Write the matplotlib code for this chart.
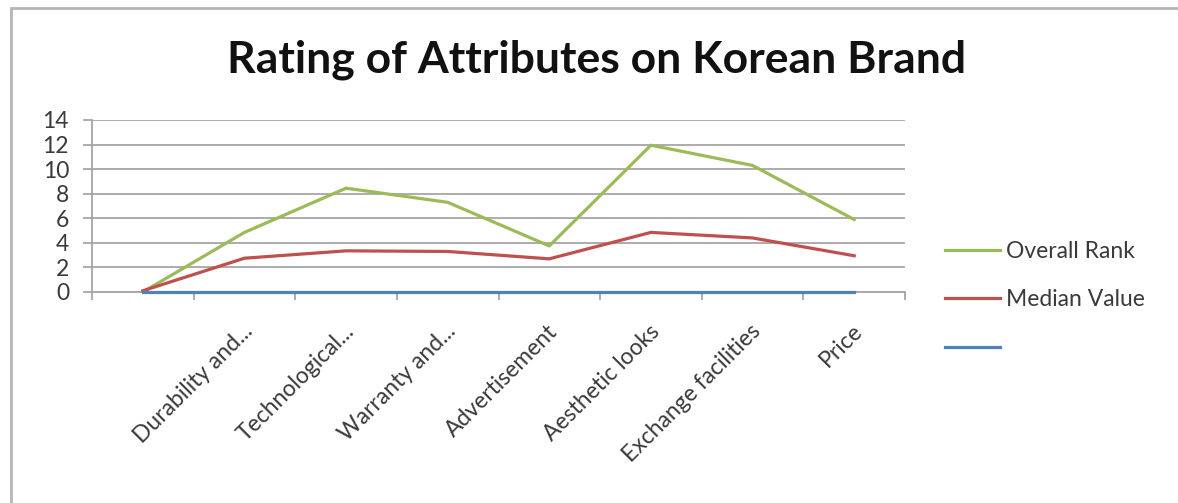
import matplotlib.pyplot as plt
from matplotlib.patches import Rectangle
import matplotlib.transforms as mtransforms

# chart data
categories = ["", "Durability and...", "Technological...", "Warranty and...",
              "Advertisement", "Aesthetic looks", "Exchange facilities", "Price"]
overall_rank = [0, 4.85, 8.45, 7.3, 3.75, 11.95, 10.3, 5.9]
median_value = [0.1, 2.75, 3.35, 3.3, 2.7, 4.85, 4.4, 2.95]
third_series = [0, 0, 0, 0, 0, 0, 0, 0]
y_ticks = [0, 2, 4, 6, 8, 10, 12, 14]

plt.rcParams['font.family'] = ['Lato', 'DejaVu Sans']

fig = plt.figure(figsize=(11.78, 5.03), dpi=100)

# outer chart frame (right and bottom run off the picture)
fig.patches.append(Rectangle((11 / 1178, -0.05), 1.2, 1 - 8 / 503 + 0.05,
                             transform=fig.transFigure, fill=False,
                             edgecolor="#b5b5b5", linewidth=2))

ax = fig.add_axes([92 / 1178, 1 - 292 / 503, 813 / 1178, 172 / 503])

x = list(range(len(categories)))
ax.plot(x, overall_rank, color="#9BBB59", lw=2.3, label="Overall Rank", zorder=3, clip_on=False)
ax.plot(x, median_value, color="#C0504D", lw=2.3, label="Median Value", zorder=3, clip_on=False)
ax.plot(x, third_series, color="#4F81BD", lw=2.3, label=" ", zorder=4, clip_on=False)

ax.set_xlim(-0.5, len(categories) - 0.5)
ax.set_ylim(0, 14)
ax.set_yticks(y_ticks)
ax.yaxis.grid(True, color="#a6a6a6", lw=1.3)
ax.set_axisbelow(True)

for side in ["top", "right"]:
    ax.spines[side].set_visible(False)
for side in ["left", "bottom"]:
    ax.spines[side].set_color("#a6a6a6")
    ax.spines[side].set_linewidth(1.3)

ax.tick_params(axis="y", labelsize=16.5, colors="#a6a6a6", labelcolor="#3a3a3a",
               length=6.5, width=1.3, pad=10)

# category boundaries as ticks, labels at centres
ax.set_xticks([i - 0.5 for i in range(len(categories) + 1)])
ax.set_xticklabels([])
ax.tick_params(axis="x", colors="#a6a6a6", length=6, width=1.3)
offset = mtransforms.ScaledTranslation(5 / 100, -36 / 100, fig.dpi_scale_trans)
for i, lab in enumerate(categories):
    ax.text(i, 0, lab, rotation=45, ha="right", va="center",
            rotation_mode="anchor", fontsize=16.5, color="#3a3a3a",
            transform=ax.get_xaxis_transform() + offset)

fig.text(597 / 1178, 1 - 60 / 503, "Rating of Attributes on Korean Brand",
         ha="center", va="center", fontsize=32, fontweight="bold", color="#111111")

ax.legend(loc="center left", bbox_to_anchor=(924 / 1178, 1 - 300 / 503),
          bbox_transform=fig.transFigure, frameon=False, fontsize=16.5,
          handlelength=2.4, handletextpad=0.26, labelspacing=1.2,
          labelcolor="#3a3a3a")

fig.savefig("out.png", dpi=100)
